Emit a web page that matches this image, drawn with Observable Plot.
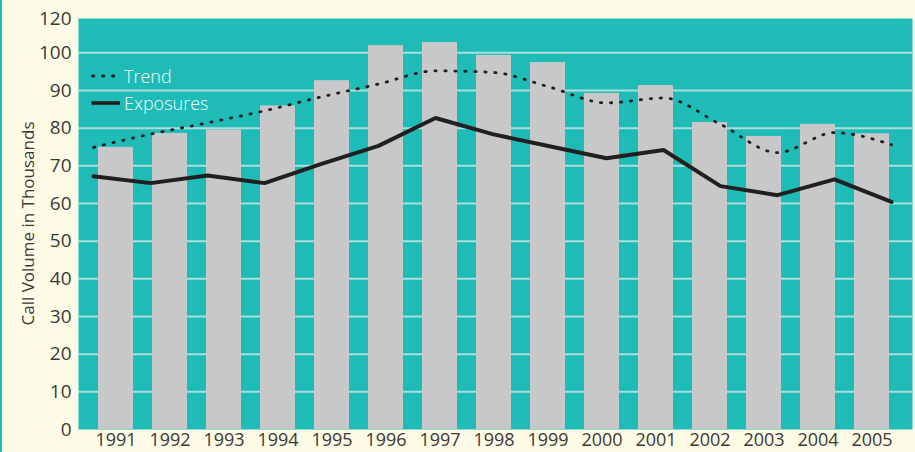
<!DOCTYPE html>
<html>
<head>
<meta charset="utf-8">
<script src="https://cdn.jsdelivr.net/npm/d3@7"></script>
<script src="https://cdn.jsdelivr.net/npm/@observablehq/plot@0.6"></script>
<style>
  html, body { margin: 0; padding: 0; background: #FEFCE6; }
  #wrap { position: relative; width: 915px; height: 452px; overflow: hidden; background: #FEFCE6; }
  #wrap svg { position: absolute; left: 0; top: 0; }
  #edge { position: absolute; left: 0; top: 0; width: 1.5px; height: 452px; background: #1FBCB7; }
  .legend { position: absolute; left: 90px; font-family: "Open Sans", sans-serif; font-size: 18px; font-weight: 300; color: #F4FBFA; line-height: 1; }
  .legend svg { position: static !important; vertical-align: middle; margin-right: 3px; }
  .legend div { display: flex; align-items: center; height: 24px; }
</style>
</head>
<body>
<div id="wrap">
  <div id="edge"></div>
</div>
<script>
// ---- data ----
const years = [1991, 1992, 1993, 1994, 1995, 1996, 1997, 1998, 1999, 2000, 2001, 2002, 2003, 2004, 2005];
const callVolume = [74.9, 78.6, 79.5, 85.9, 92.6, 101.9, 102.7, 99.3, 97.4, 89.2, 91.3, 81.5, 77.8, 81.0, 78.5];
const trend      = [74.9, 78.4, 81.4, 84.6, 88.3, 91.7, 95.2, 94.8, 90.9, 86.7, 88.0, 81.0, 73.5, 78.8, 75.6];
const exposures  = [67.2, 65.4, 67.4, 65.4, 70.5, 75.3, 82.7, 78.4, 75.2, 72.0, 74.2, 64.6, 62.2, 66.4, 60.4];
const yMax = 109.1;
const yTicks      = [0, 10, 20, 30, 40, 50, 60, 70, 80, 90, 100, 109.1];
const yTickLabels = ["0", "10", "20", "30", "40", "50", "60", "70", "80", "90", "100", "120"];
const gridValues  = [10, 20, 30, 40, 50, 60, 70, 80, 90, 100];
const yLabel = "Call Volume in Thousands";
const seriesNames = ["Trend", "Exposures"];

// ---- styles ----
const TEAL = "#1FBCB7", BAR = "#C8C8CA", GRID = "#A9DFDC", INK = "#231F20", TXT = "#3B3838";
const W = 915, H = 452;
const margins = { marginLeft: 78, marginRight: 3, marginTop: 18, marginBottom: 23 };

const bars = years.map((year, i) => ({ year, value: callVolume[i] }));
const trendData = years.map((year, i) => ({ year, value: trend[i] }));
const expData = years.map((year, i) => ({ year, value: exposures[i] }));

const main = Plot.plot({
  width: W, height: H, ...margins,
  insetLeft: 16, insetRight: 19,
  style: { background: "transparent", fontFamily: "'Open Sans', sans-serif", fontSize: "19px", color: TXT, overflow: "visible" },
  x: { type: "band", domain: years, paddingInner: 0.343, paddingOuter: 0, label: null },
  y: { domain: [0, yMax] },
  marks: [
    Plot.frame({ fill: TEAL, stroke: null }),
    Plot.gridY(gridValues, { stroke: GRID, strokeOpacity: 1, strokeWidth: 2 }),
    Plot.barY(bars, { x: "year", y: "value", fill: BAR }),
    Plot.axisX({ tickSize: 0, tickPadding: 4, label: null, fill: TXT, fontSize: 18, tickFormat: d => String(d) }),
    Plot.axisY(yTicks, {
      tickSize: 0, tickPadding: 7, fill: TXT,
      tickFormat: d => yTickLabels[yTicks.indexOf(d)],
      label: null
    })
  ]
});

const lines = Plot.plot({
  width: W, height: H, ...margins,
  insetLeft: 13, insetRight: 20,
  style: { background: "transparent" },
  x: { type: "point", domain: years, padding: 0, axis: null },
  y: { domain: [0, yMax], axis: null },
  marks: [
    Plot.line(trendData, { x: "year", y: "value", stroke: INK, strokeWidth: 2.8, strokeDasharray: "1.3 8.7", strokeLinecap: "round", curve: "monotone-x" }),
    Plot.line(expData, { x: "year", y: "value", stroke: INK, strokeWidth: 4, strokeLinejoin: "miter" })
  ]
});

const wrap = document.getElementById("wrap");
wrap.appendChild(main);
wrap.appendChild(lines);

// axis title (rotated)
const title = document.createElementNS("http://www.w3.org/2000/svg", "svg");
title.setAttribute("width", 40); title.setAttribute("height", H);
title.style.left = "8px";
const t = document.createElementNS("http://www.w3.org/2000/svg", "text");
t.setAttribute("transform", `translate(19,${(18 + 429) / 2}) rotate(-90)`);
t.setAttribute("text-anchor", "middle");
t.setAttribute("dominant-baseline", "central");
t.setAttribute("font-family", "'Open Sans', sans-serif");
t.setAttribute("font-size", "17");
t.setAttribute("fill", TXT);
t.textContent = yLabel;
title.appendChild(t);
wrap.appendChild(title);

// legend
const leg = document.createElement("div");
leg.className = "legend";
leg.style.top = "64px";
leg.innerHTML =
  `<div><svg width="31" height="8"><line x1="2.5" x2="30" y1="4" y2="4" stroke="${INK}" stroke-width="2.8" stroke-dasharray="1.3 8.7" stroke-linecap="round"/></svg>${seriesNames[0]}</div>` +
  `<div style="margin-top:3px"><svg width="31" height="8"><line x1="1.5" x2="30" y1="4" y2="4" stroke="${INK}" stroke-width="3.6"/></svg>${seriesNames[1]}</div>`;
wrap.appendChild(leg);
</script>
</body>
</html>
